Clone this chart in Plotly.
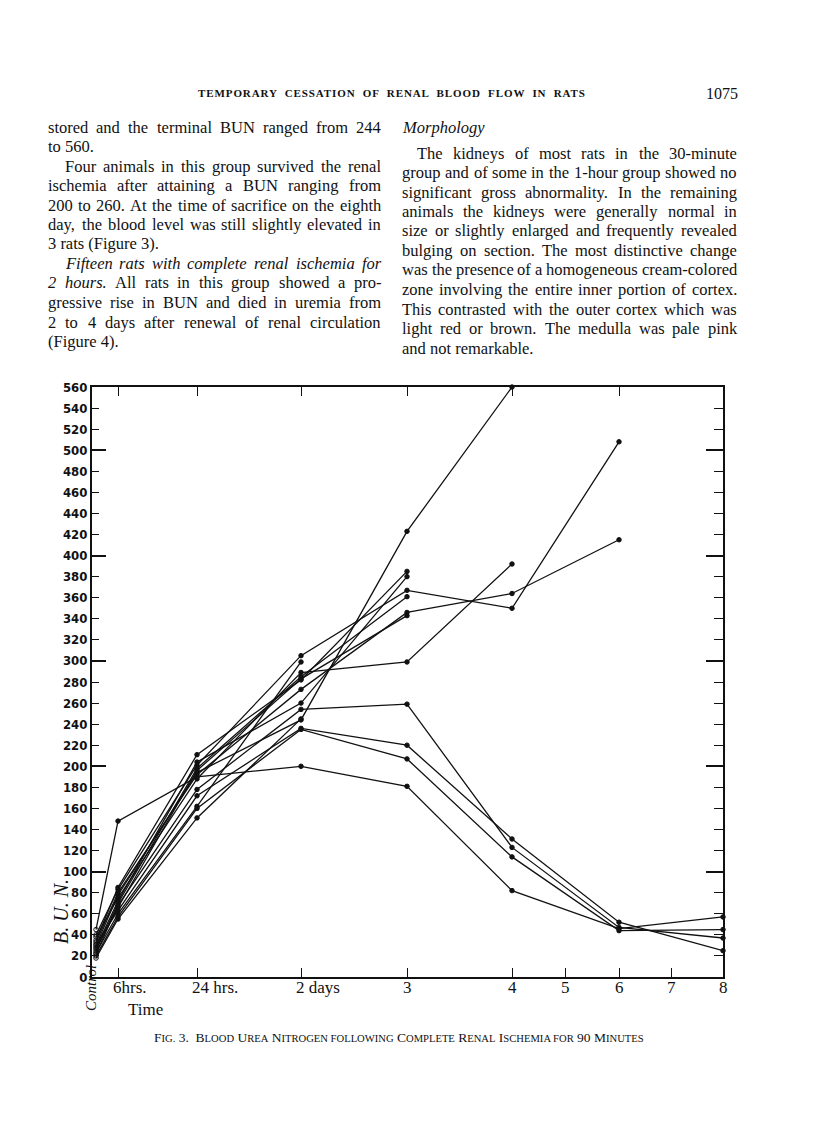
import plotly.graph_objects as go

# time points along the bottom axis and where each sits on the (uneven) time scale
time_labels = ["Control", "6hrs.", "24 hrs.", "2 days", "3", "4", "5", "6", "7", "8"]
time_pos = [4, 26, 105, 209, 315, 420, 473, 527, 579, 631]

# B.U.N. per rat, one value per time point (None = not measured / dead)
rat01 = [30, 78, 194, 244, 423, 560, None, None, None, None]
rat02 = [35, 85, 211, 282, 385, None, None, None, None, None]
rat03 = [28, 72, 204, 260, 380, None, None, None, None, None]
rat04 = [40, 83, 201, 305, 367, 350, None, 508, None, None]
rat05 = [25, 70, 198, 285, 361, None, None, None, None, None]
rat06 = [33, 80, 192, 273, 346, 364, None, 415, None, None]
rat07 = [27, 66, 196, 283, 343, None, None, None, None, None]
rat08 = [38, 75, 188, 289, 299, 392, None, None, None, None]
rat09 = [22, 68, 178, 254, 259, 123, None, 47, None, 37]
rat10 = [31, 63, 172, 236, 220, 131, None, 52, None, 25]
rat11 = [20, 57, 160, 235, 207, 114, None, 44, None, 45]
rat12 = [45, 148, 190, 200, 181, 82, None, 46, None, 57]
rat13 = [18, 55, 151, 245, None, None, None, None, None, None]
rat14 = [23, 60, 162, 299, None, None, None, None, None, None]
rats = [rat01, rat02, rat03, rat04, rat05, rat06, rat07,
        rat08, rat09, rat10, rat11, rat12, rat13, rat14]

y_ticks = list(range(0, 561, 20))
y_major = [100, 200, 300, 400, 500]
top_ticks = ["6hrs.", "24 hrs.", "2 days", "3", "4", "6"]

# page text: (line, first line of paragraph?, justified?)
left_col = [
    ("stored and the terminal BUN ranged from 244", False, True),
    ("to 560.", False, False),
    ("Four animals in this group survived the renal", True, True),
    ("ischemia after attaining a BUN ranging from", False, True),
    ("200 to 260. At the time of sacrifice on the eighth", False, True),
    ("day, the blood level was still slightly elevated in", False, True),
    ("3 rats (Figure 3).", False, False),
    ("<i>Fifteen rats with complete renal ischemia for</i>", True, True),
    ("<i>2 hours.</i> All rats in this group showed a pro-", False, True),
    ("gressive rise in BUN and died in uremia from", False, True),
    ("2 to 4 days after renewal of renal circulation", False, True),
    ("(Figure 4).", False, False),
]
right_col = [
    ("The kidneys of most rats in the 30-minute", True, True),
    ("group and of some in the 1-hour group showed no", False, True),
    ("significant gross abnormality. In the remaining", False, True),
    ("animals the kidneys were generally normal in", False, True),
    ("size or slightly enlarged and frequently revealed", False, True),
    ("bulging on section. The most distinctive change", False, True),
    ("was the presence of a homogeneous cream-colored", False, True),
    ("zone involving the entire inner portion of cortex.", False, True),
    ("This contrasted with the outer cortex which was", False, True),
    ("light red or brown. The medulla was pale pink", False, True),
    ("and not remarkable.", False, False),
]

W, H = 816, 1130
L, R, T, B = 92, 723, 387, 977
OFF = 8  # default body margin of the html page


def px(x):
    return (x - L) / (R - L)


def py(y):
    return (B - y) / (B - T)


fig = go.Figure()

for r in rats:
    fig.add_trace(go.Scatter(
        x=time_pos, y=r, mode="lines+markers", connectgaps=True,
        line=dict(color="#111", width=1.3),
        marker=dict(size=4.5, color="#111",
                    symbol=["circle-open"] + ["circle"] * 9,
                    line=dict(color="#111", width=1)),
        cliponaxis=False, showlegend=False, hoverinfo="skip"))

# empty traces so the extra tick axes get drawn
for xa, ya in [("x2", "y2"), ("x", "y3"), ("x", "y4")]:
    fig.add_trace(go.Scatter(x=[None], y=[None], xaxis=xa, yaxis=ya,
                             showlegend=False, hoverinfo="skip"))

tickfont = dict(family="DejaVu Sans Condensed, Liberation Sans Narrow, sans-serif",
                size=13, color="#111", weight="bold")
serif = "Liberation Serif, serif"

fig.update_layout(
    width=W - 2 * OFF, height=H - 2 * OFF, autosize=False,
    margin=dict(l=L - OFF, r=W - OFF - R, t=T - OFF, b=H - OFF - B, pad=0),
    paper_bgcolor="white", plot_bgcolor="white",
    xaxis=dict(range=[0, 631], showgrid=False, zeroline=False,
               showline=True, linecolor="#111", linewidth=2,
               ticks="inside", ticklen=9, tickwidth=1.3, tickcolor="#111",
               tickvals=time_pos[1:], showticklabels=False),
    xaxis2=dict(range=[0, 631], overlaying="x", side="top", anchor="y",
                showgrid=False, zeroline=False,
                showline=True, linecolor="#111", linewidth=1.5,
                ticks="inside", ticklen=9, tickwidth=1.3, tickcolor="#111",
                tickvals=[time_pos[time_labels.index(t)] for t in top_ticks],
                showticklabels=False),
    yaxis=dict(range=[0, 560], showgrid=False, zeroline=False,
               showline=True, linecolor="#111", linewidth=2,
               ticks="inside", ticklen=7, tickwidth=1.3, tickcolor="#111",
               tickvals=y_ticks, ticktext=[str(v) for v in y_ticks],
               tickfont=tickfont),
    yaxis2=dict(range=[0, 560], overlaying="y", side="left", anchor="x",
                showgrid=False, zeroline=False, showline=False,
                ticks="inside", ticklen=14, tickwidth=1.6, tickcolor="#111",
                tickvals=y_major, showticklabels=False),
    yaxis3=dict(range=[0, 560], overlaying="y", side="right", anchor="x",
                showgrid=False, zeroline=False,
                showline=True, linecolor="#111", linewidth=1.5,
                ticks="inside", ticklen=9, tickwidth=1.3, tickcolor="#111",
                tickvals=y_ticks, showticklabels=False),
    yaxis4=dict(range=[0, 560], overlaying="y", side="right", anchor="x",
                showgrid=False, zeroline=False, showline=False,
                ticks="inside", ticklen=17, tickwidth=1.6, tickcolor="#111",
                tickvals=y_major, showticklabels=False),
)

ann = []


def txt(x, y, s, size=16, anchor="left", family=serif, angle=0):
    ann.append(dict(x=px(x), y=py(y), xref="paper", yref="paper", text=s,
                    showarrow=False, xanchor=anchor, yanchor="middle",
                    textangle=angle, borderpad=0, borderwidth=0,
                    font=dict(family=family, size=size, color="#111")))


# Times (Liberation Serif) advance widths per 1000 em, used to justify the columns
lower = "abcdefghijklmnopqrstuvwxyz"
upper = "ABCDEFGHIJKLMNOPQRSTUVWXYZ"
TR = dict(zip(lower, [444, 500, 444, 500, 444, 333, 500, 500, 278, 278, 500, 278, 778,
                      500, 500, 500, 500, 333, 389, 278, 500, 500, 722, 500, 500, 444]))
TR.update(zip(upper, [722, 667, 667, 722, 611, 556, 722, 722, 333, 389, 722, 611, 889,
                      722, 722, 556, 722, 667, 556, 611, 722, 722, 944, 722, 722, 611]))
TR.update({c: 500 for c in "0123456789"})
TR.update({" ": 250, ".": 250, ",": 250, "-": 333, "(": 333, ")": 333, ":": 278})
TI = dict(TR)
TI.update(zip(lower, [500, 500, 444, 500, 444, 278, 500, 500, 278, 278, 444, 278, 722,
                      500, 500, 500, 500, 389, 389, 278, 500, 444, 667, 444, 444, 389]))
TI.update({"F": 611})

BODY = 16.5


def word_w(w, it):
    tab = TI if it else TR
    return sum(tab.get(c, 500) for c in w) * BODY / 1000


def set_line(line, x0, x1, y, justify):
    if not justify:
        txt(x0, y, line, size=BODY)
        return
    words, it = [], False
    for raw in line.split():
        start = raw.startswith("<i>")
        w = raw.replace("<i>", "").replace("</i>", "")
        if start:
            it = True
        words.append((w, it))
        if raw.endswith("</i>"):
            it = False
    widths = [word_w(w, i) for w, i in words]
    gap = (x1 - x0 - sum(widths)) / (len(words) - 1)
    x = x0
    for (w, i), ww in zip(words, widths):
        txt(x, y, "<i>%s</i>" % w if i else w, size=BODY)
        x += ww + gap


# x tick labels
for lab, pos in zip(time_labels[1:], time_pos[1:]):
    xpix = L + pos
    if len(lab) > 1:
        txt(xpix - 5, 987, lab, size=17)
    else:
        txt(xpix, 987, lab, size=17, anchor="center")
txt(128, 1009, "Time", size=17)
txt(91, 988, "<i>Control</i>", size=15, anchor="center", angle=-90)
txt(61, 912, "<i>B. U. N.</i>", size=20, anchor="center", angle=-90)

# caption
sc = '<span style="font-size:10.6px">'
caption = ("F" + sc + "IG.</span> 3.  B" + sc + "LOOD</span> U" + sc + "REA</span> N"
           + sc + "ITROGEN FOLLOWING</span> C" + sc + "OMPLETE</span> R" + sc
           + "ENAL</span> I" + sc + "SCHEMIA FOR</span> 90 M" + sc + "INUTES</span>")
txt(399, 1037, caption, size=13.5, anchor="center")

# running head
txt(392, 93, '<span style="letter-spacing:0.9px"><b>TEMPORARY  CESSATION  OF  RENAL'
    '  BLOOD  FLOW  IN  RATS</b></span>', size=11, anchor="center")
txt(738, 93, "1075", size=16, anchor="right")

# body text
ystep = 19.5
for i, (line, indent, just) in enumerate(left_col):
    set_line(line, 65 if indent else 48, 381, 127 + i * ystep, just)
txt(402, 127, "<i>Morphology</i>", size=BODY)
for i, (line, indent, just) in enumerate(right_col):
    set_line(line, 417 if indent else 402, 737, 153 + i * ystep, just)

fig.update_layout(annotations=ann)
fig.write_html("out.html")
